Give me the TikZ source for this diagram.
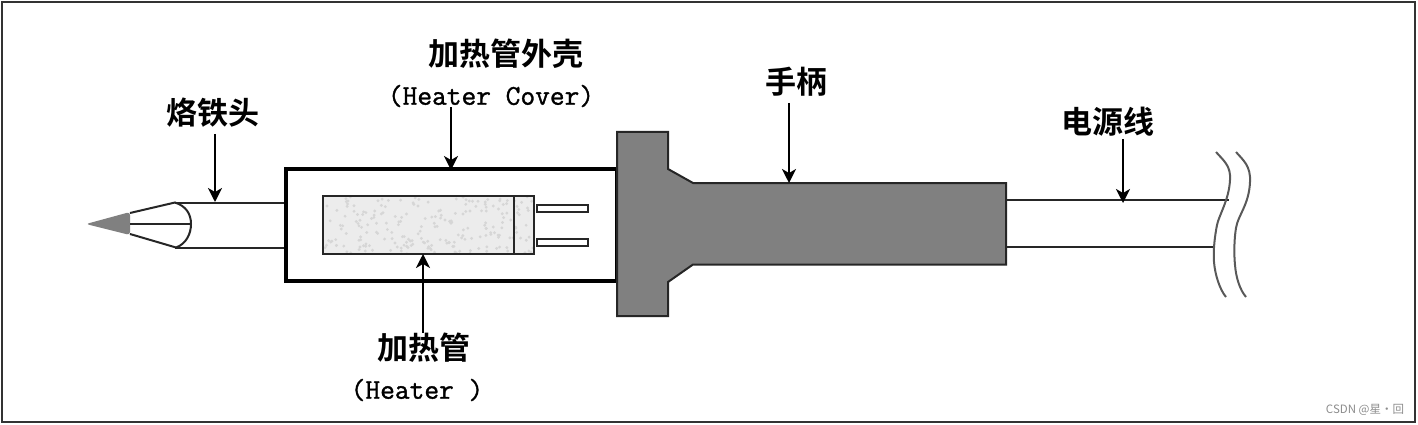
\documentclass[tikz,border=0pt]{standalone}
\usepackage{fontspec}
\setmonofont[FakeBold=1.2]{Latin Modern Mono}
\newfontfamily\cjkfont[BoldFont={Noto Sans CJK SC Bold}]{Noto Sans CJK SC}
\usetikzlibrary{arrows.meta}
\definecolor{handlegray}{HTML}{808080}
\definecolor{heatergray}{HTML}{ECECEC}
\definecolor{specklegray}{HTML}{D6D6D6}
\tikzset{
  pointer/.style={line width=2pt,-{Stealth[length=14pt,width=14pt,inset=4pt]}},
  cntext/.style={inner sep=0pt,text=black,font=\cjkfont\bfseries\fontsize{31}{31}\selectfont},
  entext/.style={inner sep=0pt,text=black,font=\ttfamily\fontsize{28.6}{29}\selectfont},
  part/.style={draw=black!85,line width=2pt}
}
\begin{document}
\begin{tikzpicture}[x=1pt,y=-1pt]
	\useasboundingbox (0,0) rectangle (1418,425);

	% Define y of the two shaft lines.
	\def\shafttop{202.5}
	\def\shaftbot{247.5}

	% Frame
	\draw[color=black!80,line width=2pt] (2,2) rectangle (1414.5,421.5);

	% Tip and shaft
	\fill[color=handlegray,rounded corners=3pt] (86,224) -- (130,212) -- (130,235) -- cycle;
	\draw[part] (130,213) -- (175,\shafttop) .. controls (186,206) and (191,214) .. (191,224) .. controls (191,234) and (186,244) .. (176,\shaftbot) -- (130,234);
	\draw[part] (130,224) -- (191,224);
	\draw[part] (175,\shafttop) -- (286,\shafttop);
	\draw[part] (175,\shaftbot) -- (286,\shaftbot);

	% Heater cover
	\draw[color=black,line width=3.5pt] (286,169) rectangle (617,281);

	% Heater, with speckles in its fill
	\fill[color=heatergray] (323,196) rectangle (534,254);
	\begin{scope}
		\clip (323,196) rectangle (534,254);
		\pgfmathsetseed{17}
		\foreach \i in {1,...,220} {
			\fill[color=specklegray] ({323+211*rnd},{196+58*rnd}) circle (1.6pt);
		}
	\end{scope}
	\draw[part] (323,196) rectangle (534,254);
	\draw[part] (514,196) -- (514,254);
	\draw[part] (537,205) rectangle (588,212);
	\draw[part] (537,239) rectangle (588,246);

	% Handle
	\draw[part,fill=handlegray] (617,132) -- (668,132) -- (668,169) -- (693,183) -- (1006,183) -- (1006,264.5) -- (693,264.5) -- (668,282) -- (668,316) -- (617,316) -- cycle;

	% Cord
	\draw[part] (1006,200) -- (1229,200);
	\draw[part] (1006,247) -- (1214,247);
	\draw[color=black!65,line width=2pt] (1216,152) .. controls (1224,161) and (1231,166) .. (1230,180) .. controls (1229,200) and (1219,215) .. (1217,225) .. controls (1215,235) and (1213,250) .. (1214,262) .. controls (1215,275) and (1220,290) .. (1226,297);
	\draw[color=black!65,line width=2pt] (1236,152) .. controls (1243,160) and (1251,166) .. (1250,182) .. controls (1249,205) and (1238,215) .. (1236,228) .. controls (1234,240) and (1234,255) .. (1235,265) .. controls (1236,278) and (1240,290) .. (1246,297);

	% Labels
	\node[cntext] (tiptext) at (213,113) {烙铁头};
	\node[cntext] (covertext) at (506,54) {加热管外壳};
	\node[entext] (covertexten) at (491,96) {(Heater Cover)};
	\node[cntext] (heatertext) at (424,348) {加热管};
	\node[entext] (heatertexten) at (417,390) {(Heater )};
	\node[cntext] (handletext) at (796,82) {手柄};
	\node[cntext] (cordtext) at (1108,122) {电源线};
	\node[text=black!45,inner sep=0pt,font=\cjkfont\fontsize{11.5}{12}\selectfont] (marktext) at (1365,410) {CSDN @星·回};

	% Define where the arrows end.
	\coordinate (tipend) at (215,202);
	\coordinate (coverend) at (451,170);
	\coordinate (heaterend) at (423,254);
	\coordinate (handleend) at (789,183);
	\coordinate (cordend) at (1123,203);

	% Arrows
	\draw[pointer] (tiptext.south -| tipend) ++(0,6) -- (tipend);
	\draw[pointer] (covertexten.south -| coverend) -- (coverend);
	\draw[pointer] (heatertext.north -| heaterend) -- (heaterend);
	\draw[pointer] (handletext.south -| handleend) ++(0,6) -- (handleend);
	\draw[pointer] (cordtext.south -| cordend) ++(0,2) -- (cordend);
\end{tikzpicture}
\end{document}
